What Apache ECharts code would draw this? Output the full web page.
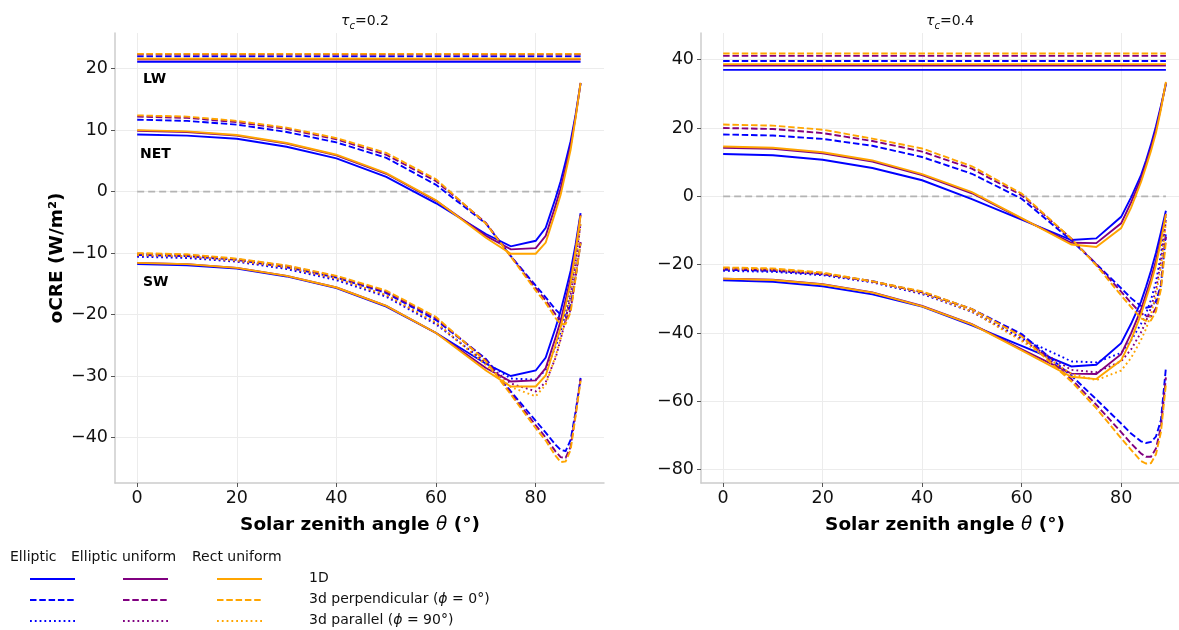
<!DOCTYPE html>
<html>
<head>
<meta charset="utf-8">
<script src="https://cdn.jsdelivr.net/npm/echarts@6/dist/echarts.min.js"></script>
<style>
  html, body { margin: 0; padding: 0; background: #ffffff; }
  #chart { width: 1179px; height: 630px; }
</style>
</head>
<body>
<div id="chart"></div>
<script>
// Solar zenith angles (degrees) at which the cloud radiative effect was computed
const SZA = [0, 10, 20, 30, 40, 50, 60, 70, 75, 80, 82, 84, 85, 86, 87, 88, 89];

// Tick labels
const xTicks = [0, 20, 40, 60, 80];
const yTicks02 = [-40, -30, -20, -10, 0, 10, 20];
const yTicks04 = [-80, -60, -40, -20, 0, 20, 40];

// ---------- tau_c = 0.2 ----------
// Longwave (constant with SZA)
const lw02Ell1D = 21.1, lw02EllPerp = 22.0;
const lw02EU1D = 21.5, lw02EUPerp = 22.3;
const lw02RU1D = 21.6, lw02RUPerp = 22.4;

// Net
const net02Ell1D = [9.3, 9.1, 8.6, 7.3, 5.4, 2.4, -1.9, -6.9, -8.9, -8.0, -5.9, -1.0, 1.7, 4.9, 8.2, 12.5, 17.6];
const net02EllPerp = [11.7, 11.5, 10.9, 9.7, 8.0, 5.5, 1.1, -5.2, -10.5, -15.3, -17.2, -19.2, -20.0, -20.2, -18.4, -13.8, -8.3];
const net02EU1D = [9.9, 9.7, 9.1, 7.8, 5.9, 2.9, -1.5, -7.2, -9.4, -9.2, -7.2, -2.2, 0.5, 3.9, 7.4, 12.2, 17.7];
const net02EUPerp = [12.2, 12.0, 11.3, 10.2, 8.5, 6.0, 1.7, -5.1, -10.5, -15.7, -17.7, -20.0, -20.9, -21.0, -19.2, -13.9, -8.2];
const net02RU1D = [10.0, 9.8, 9.2, 7.9, 6.0, 3.0, -1.4, -7.5, -10.1, -10.1, -8.3, -3.2, -0.5, 3.1, 6.8, 12.0, 17.7];
const net02RUPerp = [12.4, 12.2, 11.5, 10.4, 8.7, 6.3, 2.0, -5.2, -10.6, -16.1, -18.1, -20.6, -21.6, -21.5, -19.6, -14.1, -8.4];

// Shortwave
const sw02Ell1D = [-11.8, -12.0, -12.5, -13.8, -15.7, -18.7, -23.0, -28.0, -30.0, -29.1, -27.0, -22.1, -19.4, -16.2, -12.9, -8.6, -3.5];
const sw02EllPerp = [-10.3, -10.5, -11.1, -12.3, -14.0, -16.5, -20.9, -27.2, -32.5, -37.3, -39.2, -41.2, -42.0, -42.2, -40.4, -35.8, -30.3];
const sw02EllPar = [-10.6, -10.8, -11.4, -12.6, -14.4, -17.1, -21.6, -27.8, -30.4, -30.6, -29.0, -25.2, -22.8, -19.8, -15.8, -10.8, -5.0];
const sw02EU1D = [-11.6, -11.8, -12.4, -13.7, -15.6, -18.6, -23.0, -28.7, -30.9, -30.7, -28.7, -23.7, -21.0, -17.6, -14.1, -9.3, -3.8];
const sw02EUPerp = [-10.1, -10.3, -11.0, -12.1, -13.8, -16.3, -20.6, -27.4, -32.8, -38.0, -40.0, -42.3, -43.2, -43.3, -41.5, -36.2, -30.5];
const sw02EUPar = [-10.4, -10.6, -11.3, -12.4, -14.2, -16.9, -21.4, -28.0, -31.2, -32.5, -31.0, -27.0, -24.0, -20.8, -16.8, -11.5, -5.2];
const sw02RU1D = [-11.6, -11.8, -12.4, -13.7, -15.6, -18.6, -23.0, -29.1, -31.7, -31.7, -29.9, -24.8, -22.1, -18.5, -14.8, -9.6, -3.9];
const sw02RUPerp = [-10.0, -10.2, -10.9, -12.0, -13.7, -16.1, -20.4, -27.6, -33.0, -38.5, -40.5, -43.0, -44.0, -43.9, -42.0, -36.5, -30.8];
const sw02RUPar = [-10.3, -10.5, -11.2, -12.3, -14.1, -16.8, -21.3, -28.2, -31.8, -33.3, -31.4, -26.7, -24.0, -20.8, -16.8, -11.5, -5.3];

// ---------- tau_c = 0.4 ----------
const lw04Ell1D = 37.0, lw04EllPerp = 39.6;
const lw04EU1D = 38.3, lw04EUPerp = 41.1;
const lw04RU1D = 38.7, lw04RUPerp = 41.8;

const net04Ell1D = [12.4, 12.0, 10.7, 8.3, 4.7, -0.8, -6.8, -12.8, -12.3, -6.0, -0.3, 6.2, 10.5, 15.2, 20.5, 26.5, 32.8];
const net04EllPerp = [18.1, 17.8, 16.8, 14.8, 11.5, 6.6, -0.7, -12.9, -19.8, -26.9, -29.8, -32.1, -32.6, -32.3, -30.7, -25.9, -10.6];
const net04EU1D = [14.2, 13.9, 12.6, 10.2, 6.2, 0.9, -6.5, -13.6, -13.7, -7.9, -1.8, 5.2, 9.6, 14.2, 19.5, 26.0, 33.2];
const net04EUPerp = [20.0, 19.7, 18.5, 16.2, 13.1, 8.1, 0.3, -12.4, -19.9, -27.9, -31.2, -34.2, -35.1, -35.1, -32.7, -26.4, -11.9];
const net04RU1D = [14.6, 14.2, 12.9, 10.5, 6.5, 1.2, -6.4, -14.1, -14.8, -9.3, -3.3, 4.2, 8.7, 13.3, 18.6, 25.5, 33.5];
const net04RUPerp = [21.0, 20.7, 19.5, 16.9, 14.0, 8.8, 0.8, -12.4, -20.2, -29.0, -32.4, -35.7, -36.4, -36.3, -33.7, -27.2, -13.2];

const sw04Ell1D = [-24.6, -25.0, -26.3, -28.7, -32.3, -37.8, -43.8, -49.8, -49.3, -43.0, -37.3, -30.8, -26.5, -21.8, -16.5, -10.5, -4.2];
const sw04EllPerp = [-21.5, -21.8, -22.8, -24.8, -28.1, -33.0, -40.3, -52.5, -59.4, -66.5, -69.4, -71.7, -72.2, -71.9, -70.3, -65.5, -50.2];
const sw04EllPar = [-21.8, -22.1, -23.1, -25.2, -28.6, -33.8, -41.5, -48.3, -48.6, -45.8, -42.2, -37.3, -34.3, -30.3, -25.0, -17.0, -6.0];
const sw04EU1D = [-24.1, -24.4, -25.7, -28.1, -32.1, -37.4, -44.8, -51.9, -52.0, -46.2, -40.1, -33.1, -28.7, -24.1, -18.8, -12.3, -5.1];
const sw04EUPerp = [-21.1, -21.4, -22.6, -24.9, -28.0, -33.0, -40.8, -53.5, -61.0, -69.0, -72.3, -75.3, -76.2, -76.2, -73.8, -67.5, -53.0];
const sw04EUPar = [-21.4, -21.7, -22.8, -25.0, -28.4, -33.7, -42.0, -50.8, -51.5, -48.3, -44.8, -39.8, -36.6, -32.6, -27.3, -19.0, -7.0];
const sw04RU1D = [-24.1, -24.5, -25.8, -28.2, -32.2, -37.5, -45.1, -52.8, -53.5, -48.0, -42.0, -34.5, -30.0, -25.4, -20.1, -13.2, -5.2];
const sw04RUPerp = [-20.8, -21.1, -22.3, -24.9, -27.8, -33.0, -41.0, -54.2, -62.0, -70.8, -74.2, -77.5, -78.2, -78.1, -75.5, -69.0, -55.0];
const sw04RUPar = [-21.1, -21.4, -22.6, -24.9, -28.3, -33.7, -42.3, -52.0, -53.8, -51.0, -47.3, -42.0, -38.8, -34.5, -29.0, -20.5, -7.5];

// Styling
const FONT = 'DejaVu Sans';
const C_ELL = '#0000ff', C_EU = '#800080', C_RU = '#ffa500';
const LW_W = 1.9;
const DASH = [6.5, 2.8];
const DOT = [1.8, 3.0];

function curve(gi, values, color, dash) {
  return {
    type: 'line', xAxisIndex: gi, yAxisIndex: gi,
    data: SZA.map((x, i) => [x, values[i]]),
    showSymbol: false, symbol: 'none', silent: true,
    lineStyle: { color: color, width: LW_W, type: dash || 'solid', cap: 'butt', join: 'miter' },
    z: 3
  };
}
function flat(gi, v, color, dash) {
  return {
    type: 'line', xAxisIndex: gi, yAxisIndex: gi,
    data: [[SZA[0], v], [SZA[SZA.length - 1], v]],
    showSymbol: false, symbol: 'none', silent: true,
    lineStyle: { color: color, width: LW_W, type: dash || 'solid', cap: 'butt' },
    z: 3
  };
}
function zeroLine(gi) {
  return {
    type: 'line', xAxisIndex: gi, yAxisIndex: gi,
    data: [[SZA[0], 0], [SZA[SZA.length - 1], 0]],
    showSymbol: false, symbol: 'none', silent: true,
    lineStyle: { color: '#b4b4b4', width: 1.6, type: [7, 4] },
    z: 2
  };
}

function panelSeries(gi, d) {
  const out = [zeroLine(gi)];
  d.forEach(cfg => {
    out.push(flat(gi, cfg.lw1d, cfg.color, null));
    out.push(flat(gi, cfg.lwPerp, cfg.color, DASH));
    out.push(curve(gi, cfg.net1d, cfg.color, null));
    out.push(curve(gi, cfg.netPerp, cfg.color, DASH));
    out.push(curve(gi, cfg.sw1d, cfg.color, null));
    out.push(curve(gi, cfg.swPerp, cfg.color, DASH));
    out.push(curve(gi, cfg.swPar, cfg.color, DOT));
  });
  return out;
}

const series = [].concat(
  panelSeries(0, [
    { color: C_ELL, lw1d: lw02Ell1D, lwPerp: lw02EllPerp, net1d: net02Ell1D, netPerp: net02EllPerp, sw1d: sw02Ell1D, swPerp: sw02EllPerp, swPar: sw02EllPar },
    { color: C_EU, lw1d: lw02EU1D, lwPerp: lw02EUPerp, net1d: net02EU1D, netPerp: net02EUPerp, sw1d: sw02EU1D, swPerp: sw02EUPerp, swPar: sw02EUPar },
    { color: C_RU, lw1d: lw02RU1D, lwPerp: lw02RUPerp, net1d: net02RU1D, netPerp: net02RUPerp, sw1d: sw02RU1D, swPerp: sw02RUPerp, swPar: sw02RUPar }
  ]),
  panelSeries(1, [
    { color: C_ELL, lw1d: lw04Ell1D, lwPerp: lw04EllPerp, net1d: net04Ell1D, netPerp: net04EllPerp, sw1d: sw04Ell1D, swPerp: sw04EllPerp, swPar: sw04EllPar },
    { color: C_EU, lw1d: lw04EU1D, lwPerp: lw04EUPerp, net1d: net04EU1D, netPerp: net04EUPerp, sw1d: sw04EU1D, swPerp: sw04EUPerp, swPar: sw04EUPar },
    { color: C_RU, lw1d: lw04RU1D, lwPerp: lw04RUPerp, net1d: net04RU1D, netPerp: net04RUPerp, sw1d: sw04RU1D, swPerp: sw04RUPerp, swPar: sw04RUPar }
  ])
);

const minus = v => String(v).replace('-', '\u2212');
const TICK_FS = 17.5;

function xAxisCfg(gi, max) {
  return {
    type: 'value', gridIndex: gi, min: -4.45, max: max,
    axisLine: { show: true, onZero: false, lineStyle: { color: '#cccccc', width: 1.5 } },
    axisTick: { show: true, inside: false, length: 4, customValues: xTicks, lineStyle: { color: '#555555', width: 1 } },
    axisLabel: { customValues: xTicks, fontFamily: FONT, fontSize: TICK_FS, color: '#111111', margin: 6, formatter: minus },
    splitLine: { show: true, lineStyle: { color: '#ececec', width: 1 } }
  };
}
function yAxisCfg(gi, min, max, ticks) {
  return {
    type: 'value', gridIndex: gi, min: min, max: max,
    axisLine: { show: true, onZero: false, lineStyle: { color: '#cccccc', width: 1.5 } },
    axisTick: { show: true, inside: false, length: 4, customValues: ticks, lineStyle: { color: '#555555', width: 1 } },
    axisLabel: { customValues: ticks, fontFamily: FONT, fontSize: TICK_FS, color: '#111111', margin: 7, formatter: minus },
    splitLine: { show: true, lineStyle: { color: '#ececec', width: 1 } }
  };
}

const titleRich = {
  m: { fontFamily: FONT, fontSize: 14, fontStyle: 'italic', fontWeight: 'normal', color: '#111', lineHeight: 20 },
  s: { fontFamily: FONT, fontSize: 10, fontStyle: 'italic', fontWeight: 'normal', color: '#111', verticalAlign: 'bottom', lineHeight: 20 },
  n: { fontFamily: FONT, fontSize: 14, fontWeight: 'normal', color: '#111', lineHeight: 20 }
};

const xTitleRich = {
  b: { fontFamily: FONT, fontSize: 18.5, fontWeight: 'bold', color: '#000' },
  i: { fontFamily: FONT, fontSize: 18.5, fontStyle: 'italic', color: '#000' }
};

const LEG_FS = 14;
function legendGraphics() {
  const g = [];
  const headers = [['Elliptic', 10], ['Elliptic uniform', 71], ['Rect uniform', 192]];
  headers.forEach(h => g.push({ type: 'text', x: h[1], y: 557, style: { text: h[0], fontFamily: FONT, fontSize: LEG_FS, fill: '#111', verticalAlign: 'middle' } }));
  const cols = [[C_ELL, 30], [C_EU, 123], [C_RU, 217]];
  const rows = [[579, null, '1D'], [600, DASH, '3d perpendicular ({i|ϕ} = 0°)'], [621, DOT, '3d parallel ({i|ϕ} = 90°)']];
  rows.forEach(r => {
    cols.forEach(c => g.push({
      type: 'line', shape: { x1: c[1], y1: r[0], x2: c[1] + 45, y2: r[0] },
      style: { stroke: c[0], lineWidth: LW_W, lineDash: r[1] || null }
    }));
    g.push({ type: 'text', x: 309, y: r[0] - 1, style: {
      text: r[2], fontFamily: FONT, fontSize: LEG_FS, fill: '#111', verticalAlign: 'middle',
      rich: { i: { fontFamily: FONT, fontSize: LEG_FS, fontStyle: 'italic', fill: '#111' } }
    } });
  });
  return g;
}

const option = {
  animation: false,
  backgroundColor: '#ffffff',
  title: [
    { text: '{m|τ}{s|c}{n|=0.2}', left: 360, top: 6, textAlign: 'center', textStyle: { fontWeight: 'normal', rich: titleRich } },
    { text: '{m|τ}{s|c}{n|=0.4}', left: 945, top: 6, textAlign: 'center', textStyle: { fontWeight: 'normal', rich: titleRich } }
  ],
  grid: [
    { left: 115, top: 33, width: 489, height: 450 },
    { left: 701, top: 33, width: 478, height: 450 }
  ],
  xAxis: [xAxisCfg(0, 93.7), xAxisCfg(1, 91.63)],
  yAxis: [yAxisCfg(0, -47.4, 25.8, yTicks02), yAxisCfg(1, -83.9, 47.8, yTicks04)],
  series: series,
  graphic: [
    { type: 'text', x: 57, y: 258, rotation: Math.PI / 2, style: { text: 'oCRE (W/m²)', fontFamily: FONT, fontSize: 18.5, fontWeight: 'bold', fill: '#000', align: 'center', verticalAlign: 'middle' } },
    { type: 'text', x: 360, y: 525, style: { text: '{b|Solar zenith angle }{i|θ}{b| (°)}', rich: xTitleRich, align: 'center', verticalAlign: 'middle' } },
    { type: 'text', x: 945, y: 525, style: { text: '{b|Solar zenith angle }{i|θ}{b| (°)}', rich: xTitleRich, align: 'center', verticalAlign: 'middle' } },
    { type: 'text', x: 143, y: 79, style: { text: 'LW', fontFamily: FONT, fontSize: 14, fontWeight: 'bold', fill: '#000', verticalAlign: 'middle' } },
    { type: 'text', x: 140, y: 154, style: { text: 'NET', fontFamily: FONT, fontSize: 14, fontWeight: 'bold', fill: '#000', verticalAlign: 'middle' } },
    { type: 'text', x: 143, y: 282, style: { text: 'SW', fontFamily: FONT, fontSize: 14, fontWeight: 'bold', fill: '#000', verticalAlign: 'middle' } }
  ].concat(legendGraphics())
};

const chart = echarts.init(document.getElementById('chart'), null, { renderer: 'canvas' });
chart.setOption(option);
</script>
</body>
</html>
